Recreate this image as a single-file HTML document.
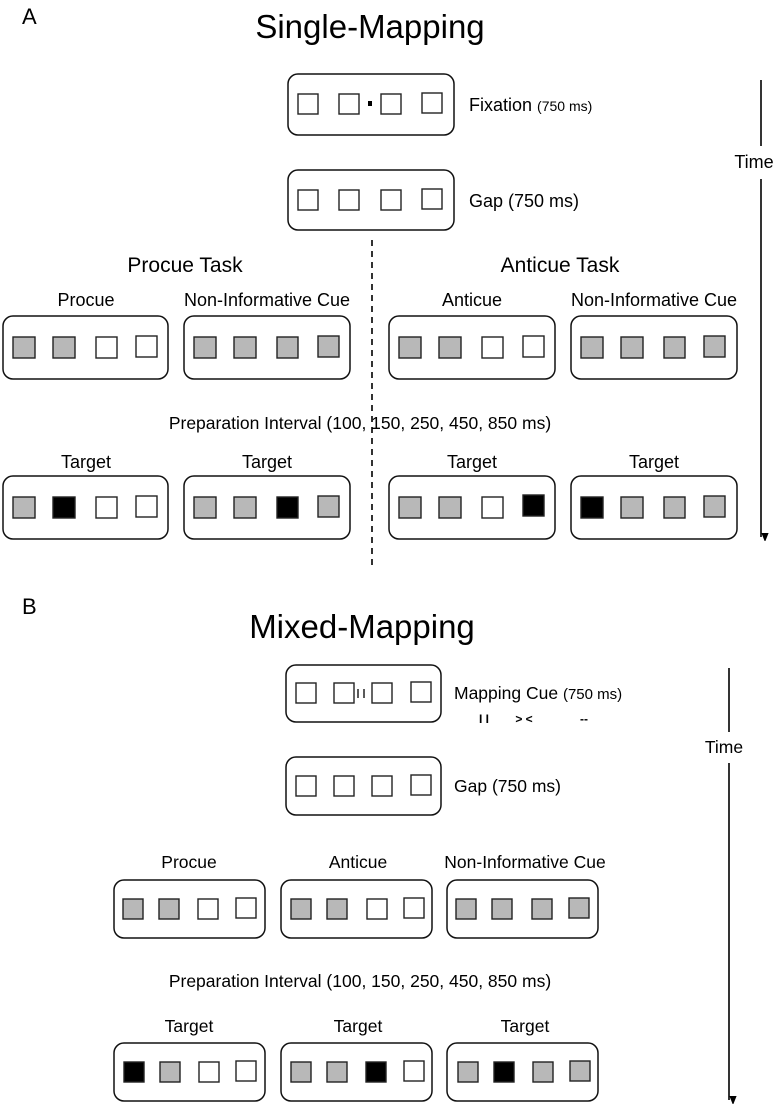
<!DOCTYPE html>
<html><head><meta charset="utf-8"><style>
html,body{margin:0;padding:0;background:#fff;}
svg{display:block;font-family:"Liberation Sans",Arial,sans-serif;}
</style></head><body>
<svg width="777" height="1105" viewBox="0 0 777 1105" xmlns="http://www.w3.org/2000/svg">
<defs>
<marker id="ah" markerWidth="8" markerHeight="10" refX="4" refY="9" orient="auto" markerUnits="userSpaceOnUse"><path d="M0,0 L8,0 L4,10 Z" transform="rotate(-90 4 5)" fill="#000"/></marker>
</defs>
<g fill="#000">
<text x="22" y="24" font-size="22">A</text>
<text x="370" y="38" font-size="33" text-anchor="middle">Single-Mapping</text>
<text x="469" y="111" font-size="18">Fixation <tspan font-size="14">(750 ms)</tspan></text>
<text x="469" y="207" font-size="18">Gap (750 ms)</text>
<text x="185" y="272" font-size="21" text-anchor="middle">Procue Task</text>
<text x="560" y="272" font-size="21" text-anchor="middle">Anticue Task</text>
<text x="86" y="306" font-size="18" text-anchor="middle">Procue</text>
<text x="267" y="306" font-size="18" text-anchor="middle">Non-Informative Cue</text>
<text x="472" y="306" font-size="18" text-anchor="middle">Anticue</text>
<text x="654" y="306" font-size="18" text-anchor="middle">Non-Informative Cue</text>
<text x="360" y="429" font-size="17.5" text-anchor="middle">Preparation Interval (100, 150, 250, 450, 850 ms)</text>
<text x="86" y="468" font-size="18" text-anchor="middle">Target</text>
<text x="267" y="468" font-size="18" text-anchor="middle">Target</text>
<text x="472" y="468" font-size="18" text-anchor="middle">Target</text>
<text x="654" y="468" font-size="18" text-anchor="middle">Target</text>
<text x="754" y="168" font-size="18" text-anchor="middle">Time</text>

<text x="22" y="614" font-size="22">B</text>
<text x="362" y="638" font-size="33" text-anchor="middle">Mixed-Mapping</text>
<text x="454" y="699" font-size="17.5">Mapping Cue <tspan font-size="15">(750 ms)</tspan></text>
<text x="484" y="723" font-size="12" font-weight="bold" text-anchor="middle">I I</text>
<text x="524" y="723" font-size="12" font-weight="bold" text-anchor="middle">&gt; &lt;</text>
<text x="584" y="723" font-size="12" font-weight="bold" text-anchor="middle">--</text>
<text x="454" y="792" font-size="17.5">Gap (750 ms)</text>
<text x="189" y="868" font-size="17.5" text-anchor="middle">Procue</text>
<text x="358" y="868" font-size="17.5" text-anchor="middle">Anticue</text>
<text x="525" y="868" font-size="17.5" text-anchor="middle">Non-Informative Cue</text>
<text x="360" y="987" font-size="17.5" text-anchor="middle">Preparation Interval (100, 150, 250, 450, 850 ms)</text>
<text x="189" y="1032" font-size="17.5" text-anchor="middle">Target</text>
<text x="358" y="1032" font-size="17.5" text-anchor="middle">Target</text>
<text x="525" y="1032" font-size="17.5" text-anchor="middle">Target</text>
<text x="724" y="753" font-size="17.5" text-anchor="middle">Time</text>
</g>

<g stroke="#000" stroke-width="1.6">
<line x1="761" y1="80" x2="761" y2="146"/>
<line x1="761" y1="179" x2="761" y2="537" marker-end="url(#ah)"/>
<line x1="729" y1="668" x2="729" y2="732"/>
<line x1="729" y1="763" x2="729" y2="1100" marker-end="url(#ah)"/>
<line x1="372" y1="240" x2="372" y2="565" stroke-dasharray="6,5"/>
</g>

<g stroke="#111" stroke-width="1.5" fill="none">
<rect x="288" y="74" width="166" height="61" rx="10"/>
<rect x="288" y="170" width="166" height="60" rx="10"/>
<rect x="3" y="316" width="165" height="63" rx="10"/>
<rect x="184" y="316" width="166" height="63" rx="10"/>
<rect x="389" y="316" width="166" height="63" rx="10"/>
<rect x="571" y="316" width="166" height="63" rx="10"/>
<rect x="3" y="476" width="165" height="63" rx="10"/>
<rect x="184" y="476" width="166" height="63" rx="10"/>
<rect x="389" y="476" width="166" height="63" rx="10"/>
<rect x="571" y="476" width="166" height="63" rx="10"/>
<rect x="286" y="665" width="155" height="57" rx="10"/>
<rect x="286" y="757" width="155" height="58" rx="10"/>
<rect x="114" y="880" width="151" height="58" rx="10"/>
<rect x="281" y="880" width="151" height="58" rx="10"/>
<rect x="447" y="880" width="151" height="58" rx="10"/>
<rect x="114" y="1043" width="151" height="58" rx="10"/>
<rect x="281" y="1043" width="151" height="58" rx="10"/>
<rect x="447" y="1043" width="151" height="58" rx="10"/>
</g>

<g stroke="#222" stroke-width="1.4">
<g fill="#fff">
<rect x="298" y="94" width="20" height="20"/><rect x="339" y="94" width="20" height="20"/><rect x="381" y="94" width="20" height="20"/><rect x="422" y="93" width="20" height="20"/>
<rect x="298" y="190" width="20" height="20"/><rect x="339" y="190" width="20" height="20"/><rect x="381" y="190" width="20" height="20"/><rect x="422" y="189" width="20" height="20"/>
</g>
<rect x="368" y="101" width="4" height="5" fill="#000" stroke="none"/>

<rect x="13" y="337" width="22" height="21" fill="#b8b8b8"/><rect x="53" y="337" width="22" height="21" fill="#b8b8b8"/><rect x="96" y="337" width="21" height="21" fill="#fff"/><rect x="136" y="336" width="21" height="21" fill="#fff"/>
<rect x="194" y="337" width="22" height="21" fill="#b8b8b8"/><rect x="234" y="337" width="22" height="21" fill="#b8b8b8"/><rect x="277" y="337" width="21" height="21" fill="#b8b8b8"/><rect x="318" y="336" width="21" height="21" fill="#b8b8b8"/>
<rect x="399" y="337" width="22" height="21" fill="#b8b8b8"/><rect x="439" y="337" width="22" height="21" fill="#b8b8b8"/><rect x="482" y="337" width="21" height="21" fill="#fff"/><rect x="523" y="336" width="21" height="21" fill="#fff"/>
<rect x="581" y="337" width="22" height="21" fill="#b8b8b8"/><rect x="621" y="337" width="22" height="21" fill="#b8b8b8"/><rect x="664" y="337" width="21" height="21" fill="#b8b8b8"/><rect x="704" y="336" width="21" height="21" fill="#b8b8b8"/>
<rect x="13" y="497" width="22" height="21" fill="#b8b8b8"/><rect x="53" y="497" width="22" height="21" fill="#000"/><rect x="96" y="497" width="21" height="21" fill="#fff"/><rect x="136" y="496" width="21" height="21" fill="#fff"/>
<rect x="194" y="497" width="22" height="21" fill="#b8b8b8"/><rect x="234" y="497" width="22" height="21" fill="#b8b8b8"/><rect x="277" y="497" width="21" height="21" fill="#000"/><rect x="318" y="496" width="21" height="21" fill="#b8b8b8"/>
<rect x="399" y="497" width="22" height="21" fill="#b8b8b8"/><rect x="439" y="497" width="22" height="21" fill="#b8b8b8"/><rect x="482" y="497" width="21" height="21" fill="#fff"/><rect x="523" y="495" width="21" height="21" fill="#000"/>
<rect x="581" y="497" width="22" height="21" fill="#000"/><rect x="621" y="497" width="22" height="21" fill="#b8b8b8"/><rect x="664" y="497" width="21" height="21" fill="#b8b8b8"/><rect x="704" y="496" width="21" height="21" fill="#b8b8b8"/>

<g fill="#fff">
<rect x="296" y="683" width="20" height="20"/><rect x="334" y="683" width="20" height="20"/><rect x="372" y="683" width="20" height="20"/><rect x="411" y="682" width="20" height="20"/>
<rect x="296" y="776" width="20" height="20"/><rect x="334" y="776" width="20" height="20"/><rect x="372" y="776" width="20" height="20"/><rect x="411" y="775" width="20" height="20"/>
</g>
<line x1="358" y1="689" x2="358" y2="698" stroke="#000" stroke-width="1.3"/>
<line x1="364" y1="689" x2="364" y2="698" stroke="#000" stroke-width="1.3"/>

<rect x="123" y="899" width="20" height="20" fill="#b8b8b8"/><rect x="159" y="899" width="20" height="20" fill="#b8b8b8"/><rect x="198" y="899" width="20" height="20" fill="#fff"/><rect x="236" y="898" width="20" height="20" fill="#fff"/>
<rect x="291" y="899" width="20" height="20" fill="#b8b8b8"/><rect x="327" y="899" width="20" height="20" fill="#b8b8b8"/><rect x="367" y="899" width="20" height="20" fill="#fff"/><rect x="404" y="898" width="20" height="20" fill="#fff"/>
<rect x="456" y="899" width="20" height="20" fill="#b8b8b8"/><rect x="492" y="899" width="20" height="20" fill="#b8b8b8"/><rect x="532" y="899" width="20" height="20" fill="#b8b8b8"/><rect x="569" y="898" width="20" height="20" fill="#b8b8b8"/>
<rect x="124" y="1062" width="20" height="20" fill="#000"/><rect x="160" y="1062" width="20" height="20" fill="#b8b8b8"/><rect x="199" y="1062" width="20" height="20" fill="#fff"/><rect x="236" y="1061" width="20" height="20" fill="#fff"/>
<rect x="291" y="1062" width="20" height="20" fill="#b8b8b8"/><rect x="327" y="1062" width="20" height="20" fill="#b8b8b8"/><rect x="366" y="1062" width="20" height="20" fill="#000"/><rect x="404" y="1061" width="20" height="20" fill="#fff"/>
<rect x="458" y="1062" width="20" height="20" fill="#b8b8b8"/><rect x="494" y="1062" width="20" height="20" fill="#000"/><rect x="533" y="1062" width="20" height="20" fill="#b8b8b8"/><rect x="570" y="1061" width="20" height="20" fill="#b8b8b8"/>
</g>
</svg>
</body></html>
